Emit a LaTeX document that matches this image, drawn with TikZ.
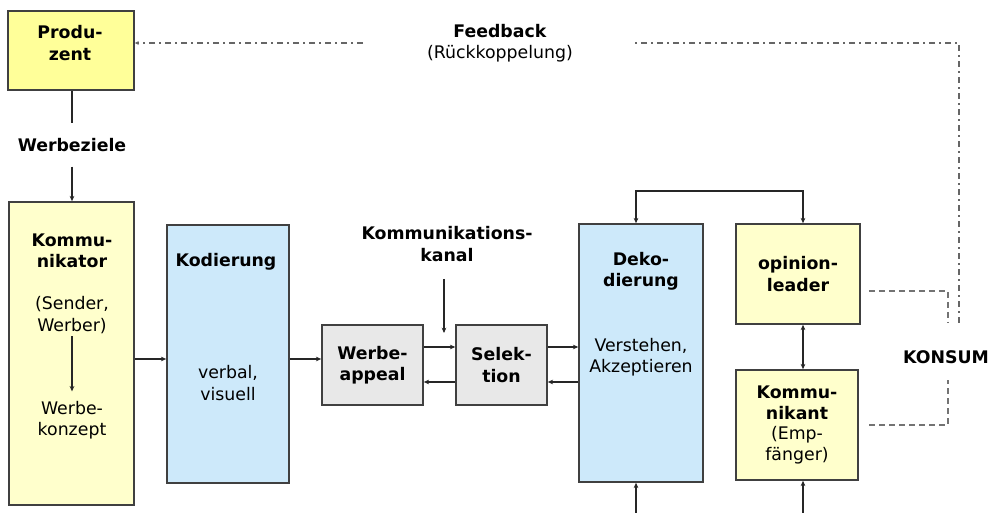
\documentclass[tikz,border=0pt]{standalone}
\usepackage{fontspec}
\setmainfont{DejaVu Sans}
\usetikzlibrary{arrows.meta}
\definecolor{gelb}{HTML}{FFFF99}
\definecolor{hellgelb}{HTML}{FFFFCC}
\definecolor{hellblau}{HTML}{CDE9FA}
\definecolor{hellgrau}{HTML}{E8E8E8}

\begin{document}
\begin{tikzpicture}[x=0.75pt,y=-0.75pt,
  main node/.style={draw=black!75,line width=1.2pt,inner sep=0pt,align=center,
    font=\fontsize{13}{16}\selectfont\bfseries},
  txt/.style={align=center,inner sep=0pt,font=\fontsize{13}{16}\selectfont},
  bf/.style={txt,font=\fontsize{13}{16}\selectfont\bfseries},
  arr/.style={-{Stealth[length=4pt,width=3.5pt]},black!85,line width=0.8pt},
  arr2/.style={{Stealth[length=4pt,width=3.5pt]}-{Stealth[length=4pt,width=3.5pt]},black!85,line width=0.8pt},
  dsh/.style={black!55,line width=1pt,dash pattern=on 4.5pt off 3pt},
  dd/.style={black!60,line width=1pt,dash pattern=on 4.5pt off 3pt on 1.5pt off 3pt}]
  \useasboundingbox (0,0) rectangle (989,513);

  % Kaesten
  \node[main node,fill=gelb,minimum width=94.5pt,minimum height=59.25pt] (prod) at (71,50.5) {};
  \node[main node,fill=hellgelb,minimum width=93.75pt,minimum height=227.25pt] (komm) at (71.5,353.5) {};
  \node[main node,fill=hellblau,minimum width=91.5pt,minimum height=193.5pt] (kod) at (228,354) {};
  \node[main node,fill=hellgrau,minimum width=75.75pt,minimum height=60pt] (wa) at (372.5,365) {Werbe-\\appeal};
  \node[main node,fill=hellgrau,minimum width=68.25pt,minimum height=60pt] (sel) at (501.5,365) {Selek-\\tion};
  \node[main node,fill=hellblau,minimum width=93pt,minimum height=193.5pt] (dek) at (641,353) {};
  \node[main node,fill=hellgelb,minimum width=93pt,minimum height=75pt] (ol) at (798,274) {opinion-\\leader};
  \node[main node,fill=hellgelb,minimum width=91.5pt,minimum height=82.5pt] (kt) at (797,425)
    {Kommu-\\nikant\\[-1pt]\mdseries(Emp-\\\mdseries f\"anger)};

  % Texte
  \node[bf] (prodt) at (70,43) {Produ-\\zent};
  \node[bf,inner ysep=11pt] (wz) at (72,145) {Werbeziele};
  \node[bf] (kommt) at (72,251) {Kommu-\\nikator};
  \node[txt] (sender) at (72,315) {(Sender,\\Werber)};
  \node[txt] (konzept) at (72,420) {Werbe-\\konzept};
  \node[bf] (kodt) at (226,262) {Kodierung};
  \node[txt] (verbal) at (228,383) {verbal,\\visuell};
  \node[bf] (kanal) at (447,244) {Kommunikations-\\kanal};
  \node[bf] (dekt) at (641,271) {Deko-\\dierung};
  \node[txt] (verst) at (641,357) {Verstehen,\\Akzeptieren};
  \node[txt] (fb) at (500,43) {\textbf{Feedback}\\(R\"uckkoppelung)};
  \node[bf] (konsum) at (946,357) {KONSUM};

  % Hilfspunkte
  \coordinate (r1) at (0,359);
  \coordinate (r2) at (0,347);
  \coordinate (r3) at (0,382);
  \coordinate (kk) at (444,333);
  \coordinate (tl) at (636,191);
  \coordinate (tr) at (803,191);
  \coordinate (bl) at (636,513);
  \coordinate (br) at (803,513);
  \coordinate (d1) at (0,291);
  \coordinate (d2) at (0,425);
  \coordinate (ks1) at (948,323);
  \coordinate (ks2) at (948,380);
  \coordinate (fb1) at (959,323);
  \coordinate (fb2) at (635,43);
  \coordinate (fb3) at (363,43);

  % Verbindungen
  \draw[black!85,line width=0.8pt] (prod.south -| wz) -- (wz.north);
  \draw[arr] (wz.south) -- (komm.north -| wz);
  \draw[arr,shorten <=2pt,shorten >=7pt] (sender.south) -- (konzept.north);
  \draw[arr] (komm.east |- r1) -- (kod.west |- r1);
  \draw[arr] (kod.east |- r1) -- (wa.west |- r1);
  \draw[arr] (wa.east |- r2) -- (sel.west |- r2);
  \draw[arr] (sel.west |- r3) -- (wa.east |- r3);
  \draw[arr] (sel.east |- r2) -- (dek.west |- r2);
  \draw[arr] (dek.west |- r3) -- (sel.east |- r3);
  \draw[arr,shorten <=13pt] (kanal.south -| kk) -- (kk);
  \draw[arr2] (dek.north -| tl) |- (tr) -- (ol.north -| tr);
  \draw[arr2] (ol.south -| tr) -- (kt.north -| tr);
  \draw[arr] (bl) -- (dek.south -| bl);
  \draw[arr] (br) -- (kt.south -| br);
  \draw[dsh,shorten <=6pt] (ol.east |- d1) -| (ks1);
  \draw[dsh,shorten <=8pt] (kt.east |- d2) -| (ks2);
  \draw[dd] (fb1) |- (fb2);
  \draw[dd,-{Stealth[length=3pt,width=3pt]}] (fb3) -- (prod.east |- fb3);

\end{tikzpicture}
\end{document}
